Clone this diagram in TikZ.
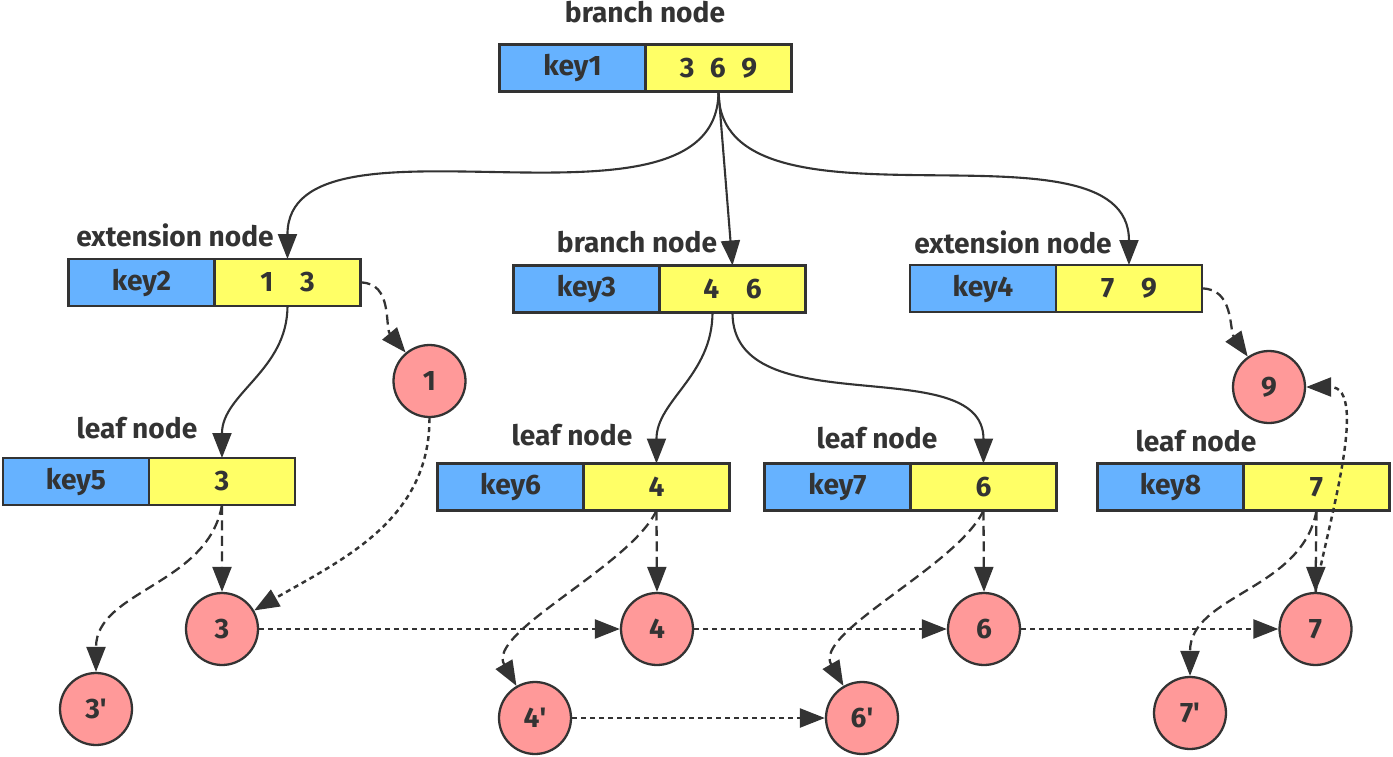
\documentclass[tikz,border=0pt]{standalone}
\usepackage{fontspec}
\setmainfont{Fira Sans}
\usepackage{xcolor}
\usetikzlibrary{arrows.meta,positioning}
\definecolor{keyblue}{HTML}{66B2FF}
\definecolor{valyellow}{HTML}{FFFF66}
\definecolor{hashpink}{HTML}{FF9999}
\definecolor{inkgray}{HTML}{333333}
\tikzset{
  keycell/.style={draw=inkgray, fill=keyblue, line width=1.3pt, minimum width=2.92cm, minimum height=0.94cm, outer sep=0pt, inner sep=0pt, font=\fontsize{16}{18}\selectfont\bfseries, text=inkgray},
  valcell/.style={keycell, fill=valyellow},
  nodetag/.style={font=\fontsize{16}{18}\selectfont\bfseries, text=inkgray, anchor=base, inner sep=0pt},
  hashcirc/.style={circle, draw=inkgray, fill=hashpink, line width=1.3pt, minimum size=1.44cm, inner sep=0pt, font=\fontsize{16}{18}\selectfont\bfseries, text=inkgray},
  treearrow/.style={-{Triangle[length=0.5cm,width=0.38cm]}, line width=1.2pt, draw=inkgray},
  refarrow/.style={treearrow, line width=1.3pt, dash pattern=on 0.2cm off 0.11cm},
  linkarrow/.style={treearrow, line width=1.4pt, dash pattern=on 0.1cm off 0.08cm},
}

\begin{document}
\begin{tikzpicture}[x=0.02cm, y=0.02cm]
  \useasboundingbox (0,0) rectangle (1393,-757);

  % branch node at the top
  \node[keycell] (k1) at (572.5,-68) {key1};
  \node[valcell, right=0pt of k1] (v1) {3\hspace{0.55em}6\hspace{0.55em}9};
  \node[nodetag] (t1) at (645,-23) {branch node};

  % second level
  \node[keycell] (k2) at (141.5,-282.5) {key2};
  \node[valcell, right=0pt of k2] (v2) {1\hspace{0.95em}3};
  \node[nodetag] (t2) at (175,-246) {extension node};

  \node[keycell] (k3) at (586.5,-289) {key3};
  \node[valcell, right=0pt of k3] (v3) {4\hspace{0.95em}6};
  \node[nodetag] (t3) at (637,-252) {branch node};

  \node[keycell] (k4) at (983,-288.5) {key4};
  \node[valcell, right=0pt of k4] (v4) {7\hspace{0.95em}9};
  \node[nodetag] (t4) at (1013,-253) {extension node};

  % leaves
  \node[keycell] (k5) at (76,-481.5) {key5};
  \node[valcell, right=0pt of k5] (v5) {3};
  \node[nodetag] (t5) at (137,-438) {leaf node};

  \node[keycell] (k6) at (510.5,-487) {key6};
  \node[valcell, right=0pt of k6] (v6) {4};
  \node[nodetag] (t6) at (572,-445) {leaf node};

  \node[keycell] (k7) at (837.5,-487) {key7};
  \node[valcell, right=0pt of k7] (v7) {6};
  \node[nodetag] (t7) at (877,-448) {leaf node};

  \node[keycell] (k8) at (1170.5,-487) {key8};
  \node[valcell, right=0pt of k8] (v8) {7};
  \node[nodetag] (t8) at (1196,-451) {leaf node};

  % values
  \node[hashcirc] (h1) at (429.5,-381) {1};
  \node[hashcirc] (h9) at (1269,-387) {9};
  \node[hashcirc] (h3) at (222,-629) {3};
  \node[hashcirc] (h4) at (657,-629) {4};
  \node[hashcirc] (h6) at (984,-629) {6};
  \node[hashcirc] (h7) at (1315.5,-629) {7};
  \node[hashcirc] (h3p) at (96,-709) {3\textquotesingle};
  \node[hashcirc] (h4p) at (535,-718) {4\textquotesingle};
  \node[hashcirc] (h6p) at (862,-718) {6\textquotesingle};
  \node[hashcirc] (h7p) at (1190,-713) {7\textquotesingle};

  % tree links
  \draw[treearrow] (v1.south) to[out=-90,in=90,looseness=0.9] (v2.north);
  \draw[treearrow] (v1.south) -- (v3.north);
  \draw[treearrow] (v1.south) to[out=-90,in=90,looseness=0.9] (v4.north);
  \draw[treearrow] (v2.south) to[out=-90,in=90] (v5.north);
  \draw[treearrow] ([xshift=-0.4cm]v3.south) to[out=-90,in=90] (v6.north);
  \draw[treearrow] (v3.south) to[out=-90,in=90] (v7.north);

  % value references
  \draw[refarrow] (v2.east) to[out=0,in=130] (h1);
  \draw[refarrow] (v4.east) to[out=0,in=125] (h9);
  \draw[refarrow] (v5.south) -- (h3.north);
  \draw[refarrow] (v5.south) to[out=-100,in=90] (h3p.north);
  \draw[refarrow] (v6.south) -- (h4.north);
  \draw[refarrow] (v6.south) to[out=-115,in=120,looseness=0.7] (h4p);
  \draw[refarrow] (v7.south) -- (h6.north);
  \draw[refarrow] (v7.south) to[out=-115,in=120,looseness=0.7] (h6p);
  \draw[refarrow] (v8.south) -- (h7.north);
  \draw[refarrow] (v8.south) to[out=-100,in=90] (h7p.north);

  % chained values
  \draw[linkarrow] (h1.south) to[out=-90,in=30] (h3);
  \draw[linkarrow] (h3) -- (h4);
  \draw[linkarrow] (h4) -- (h6);
  \draw[linkarrow] (h6) -- (h7);
  \draw[linkarrow] (h4p) -- (h6p);
  \draw[linkarrow] (h7.north) to[out=80,in=0,looseness=0.8] (h9.east);
\end{tikzpicture}
\end{document}
